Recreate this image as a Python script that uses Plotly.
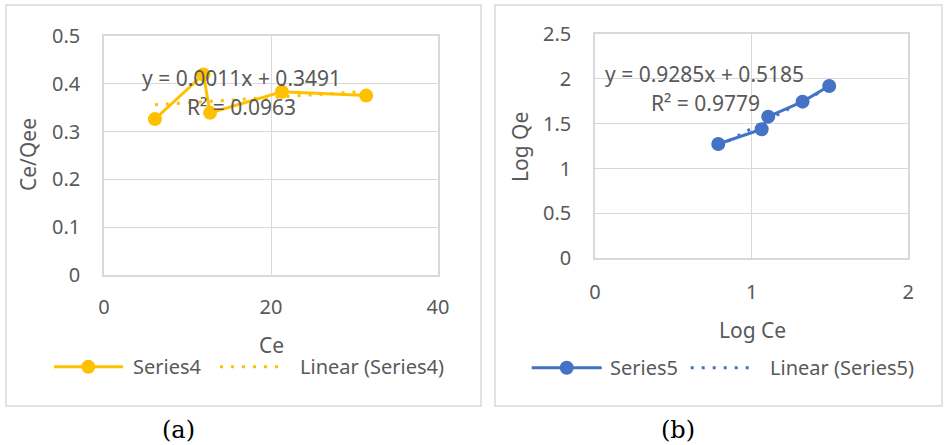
import plotly.graph_objects as go

W, H = 944, 445

# ---- data ----
ce = [6.1, 11.9, 12.7, 21.3, 31.4]
ce_qe = [0.326, 0.419, 0.339, 0.383, 0.375]
slope_a, icpt_a = 0.0011, 0.3491
eq_a = "y = 0.0011x + 0.3491"
r2_a = "R² = 0.0963"

log_ce = [0.787, 1.064, 1.106, 1.325, 1.495]
log_qe = [1.274, 1.438, 1.579, 1.746, 1.921]
slope_b, icpt_b = 0.9285, 0.5185
eq_b = "y = 0.9285x + 0.5185"
r2_b = "R² = 0.9779"

x_ticks_a = [0, 20, 40]
x_labels_a = ["0", "20", "40"]
y_ticks_a = [0, 0.1, 0.2, 0.3, 0.4, 0.5]
y_labels_a = ["0", "0.1", "0.2", "0.3", "0.4", "0.5"]
x_ticks_b = [0, 1, 2]
x_labels_b = ["0", "1", "2"]
y_ticks_b = [0, 0.5, 1, 1.5, 2, 2.5]
y_labels_b = ["0", "0.5", "1", "1.5", "2", "2.5"]

ORANGE = "#FFC000"
BLUE = "#4472C4"
GRAY = "#595959"
GRID = "#d9d9d9"
FONT = "Noto Sans"
DOTS = "3px,8px"

def px(x):
    return x / W

def py(y):
    return 1 - y / H

fig = go.Figure()

# panel (a)
fig.add_trace(go.Scatter(x=ce, y=ce_qe, mode="lines+markers",
                         line=dict(color=ORANGE, width=3),
                         marker=dict(size=14, color=ORANGE),
                         xaxis="x", yaxis="y", showlegend=False))
xa = [min(ce), max(ce)]
fig.add_trace(go.Scatter(x=xa, y=[slope_a * v + icpt_a for v in xa], mode="lines",
                         line=dict(color=ORANGE, width=3, dash=DOTS),
                         xaxis="x", yaxis="y", showlegend=False))
# panel (b)
fig.add_trace(go.Scatter(x=log_ce, y=log_qe, mode="lines+markers",
                         line=dict(color=BLUE, width=3),
                         marker=dict(size=14, color=BLUE),
                         xaxis="x2", yaxis="y2", showlegend=False))
xb = [min(log_ce), max(log_ce)]
fig.add_trace(go.Scatter(x=xb, y=[slope_b * v + icpt_b for v in xb], mode="lines",
                         line=dict(color=BLUE, width=3, dash=DOTS),
                         xaxis="x2", yaxis="y2", showlegend=False))

axis_common = dict(showgrid=True, gridcolor=GRID, gridwidth=1, zeroline=False,
                   showline=True, mirror=True, linecolor=GRID, linewidth=1.5,
                   ticks="", automargin=False, tickmode="array",
                   tickfont=dict(family=FONT, size=20, color=GRAY))

fig.update_layout(
    width=W, height=H,
    margin=dict(l=0, r=0, t=0, b=0, autoexpand=False),
    paper_bgcolor="white", plot_bgcolor="white",
    xaxis=dict(domain=[px(104), px(438)], range=[0, 40], tickvals=x_ticks_a,
               ticktext=x_labels_a, anchor="y", ticklabelstandoff=13, **axis_common),
    yaxis=dict(domain=[py(275.3), py(35.7)], range=[0, 0.5], tickvals=y_ticks_a,
               ticktext=y_labels_a, anchor="x", ticklabelstandoff=18, **axis_common),
    xaxis2=dict(domain=[px(595), px(908.3)], range=[0, 2], tickvals=x_ticks_b,
                ticktext=x_labels_b, anchor="y2", ticklabelstandoff=15, **axis_common),
    yaxis2=dict(domain=[py(258.3), py(34)], range=[0, 2.5], tickvals=y_ticks_b,
                ticktext=y_labels_b, anchor="x2", ticklabelstandoff=18, **axis_common),
)

shapes = []
# panel borders
shapes.append(dict(type="rect", xref="paper", yref="paper", x0=px(6), x1=px(481),
                   y0=py(406), y1=py(5), line=dict(color=GRID, width=1.5)))
shapes.append(dict(type="rect", xref="paper", yref="paper", x0=px(495), x1=px(942),
                   y0=py(406), y1=py(5), line=dict(color=GRID, width=1.5)))

def legend_items(xl0, xl1, xm, xd0, xd1, y, color):
    s = []
    s.append(dict(type="line", xref="paper", yref="paper", x0=px(xl0), x1=px(xl1),
                  y0=py(y), y1=py(y), line=dict(color=color, width=3)))
    s.append(dict(type="circle", xref="paper", yref="paper", x0=px(xm - 7), x1=px(xm + 7),
                  y0=py(y + 7), y1=py(y - 7), fillcolor=color, line=dict(color=color, width=0)))
    s.append(dict(type="line", xref="paper", yref="paper", x0=px(xd0), x1=px(xd1),
                  y0=py(y), y1=py(y), line=dict(color=color, width=3, dash=DOTS)))
    return s

shapes += legend_items(54, 123, 88.3, 220, 285, 366.7, ORANGE)
shapes += legend_items(531.7, 601.7, 566.7, 690.7, 755, 367.7, BLUE)
fig.update_layout(shapes=shapes)

ann = []
def text(x, y, s, size=20, anchor="center", angle=0, color=GRAY, family=FONT):
    ann.append(dict(x=px(x), y=py(y), xref="paper", yref="paper", text=s, showarrow=False,
                    xanchor=anchor, yanchor="middle", textangle=angle,
                    font=dict(family=family, size=size, color=color)))

# equations
text(241, 78, eq_a, size=21)
text(241, 107, r2_a, size=21)
text(704.5, 74, eq_b, size=21)
text(705, 103, r2_b, size=21)
# axis titles
text(271, 345, "Ce", size=21)
text(28, 155, "Ce/Qee", size=21, angle=-90)
text(752, 330, "Log Ce", size=21)
text(520, 147, "Log Qe", size=21, angle=-90)
# legend texts
text(130.7, 366.7, "Series4", anchor="left")
text(298, 366.7, "Linear (Series4)", anchor="left")
text(608.3, 367.7, "Series5", anchor="left")
text(768.3, 367.7, "Linear (Series5)", anchor="left")
# panel labels
text(178, 430, "(a)", size=24, color="black", family="DejaVu Serif")
text(677.5, 430, "(b)", size=24, color="black", family="DejaVu Serif")
fig.update_layout(annotations=ann)

fig.write_html("out.html", config={"displayModeBar": False},
               post_script="document.body.style.margin='0';")
